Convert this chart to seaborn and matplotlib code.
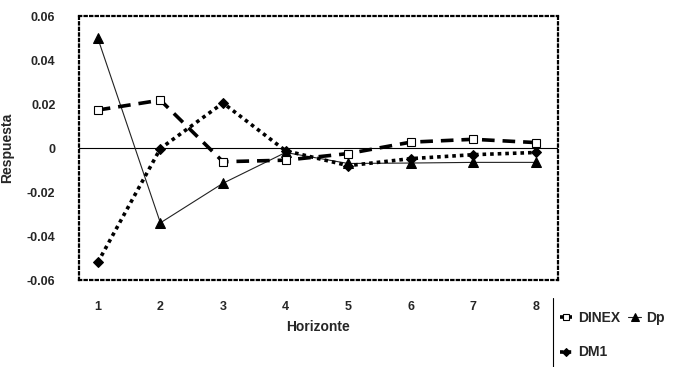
import numpy as np
import pandas as pd
import matplotlib
matplotlib.use("Agg")
import matplotlib.pyplot as plt
from matplotlib.lines import Line2D
import seaborn as sns

horizonte = [1, 2, 3, 4, 5, 6, 7, 8]
dinex = [0.0173, 0.0218, -0.0062, -0.0055, -0.0025, 0.0027, 0.0040, 0.0025]
dp = [0.0500, -0.0340, -0.0160, -0.0020, -0.0070, -0.0068, -0.0065, -0.0065]
dm1 = [-0.0520, -0.0002, 0.0205, -0.0012, -0.0080, -0.0048, -0.0030, -0.0020]
yticks = [0.06, 0.04, 0.02, 0.0, -0.02, -0.04, -0.06]
ytick_labels = ["0.06", "0.04", "0.02", "0", "-0.02", "-0.04", "-0.06"]

sns.set_style("white")
plt.rcParams['font.family'] = ['Liberation Sans', 'DejaVu Sans']
plt.rcParams['font.weight'] = 'bold'

fig = plt.figure(figsize=(6.93, 3.67), dpi=100)
ax = fig.add_axes([0.114, 0.237, 0.691, 0.719])

ax.axhline(0, color='black', lw=0.8, zorder=1)

sns.lineplot(x=horizonte, y=dp, ax=ax, color='#222222', lw=0.8,
             marker='^', markersize=7, markerfacecolor='black',
             markeredgecolor='black', label='Dp', zorder=3)
sns.lineplot(x=horizonte, y=dinex, ax=ax, color='black', lw=2.6,
             marker='s', markersize=6, markerfacecolor='white',
             markeredgecolor='black', markeredgewidth=0.8,
             label='DINEX', zorder=4)
sns.lineplot(x=horizonte, y=dm1, ax=ax, color='black', lw=2.6,
             marker='D', markersize=5, markerfacecolor='black',
             markeredgecolor='black', label='DM1', zorder=5)

for ln in ax.get_lines():
    if ln.get_label() == 'DINEX':
        ln.set_dashes((3.5, 2.2))
    elif ln.get_label() == 'DM1':
        ln.set_dashes((1.0, 1.1))

ax.set_xlim(0.70, 8.35)
ax.set_ylim(-0.06, 0.06)
ax.set_xticks(horizonte)
ax.set_xticklabels([str(h) for h in horizonte], fontsize=9, fontweight='bold')
ax.set_yticks(yticks)
ax.set_yticklabels(ytick_labels, fontsize=9, fontweight='bold')
ax.tick_params(axis='both', direction='in', length=3, width=0.6, color='black')
ax.tick_params(axis='x', pad=15)
ax.tick_params(axis='y', pad=17)

ax.set_xlabel("Horizonte", fontsize=10, fontweight='bold', labelpad=5)
ax.set_ylabel("Respuesta", fontsize=10, fontweight='bold')
ax.yaxis.set_label_coords(-0.136, 0.5)

for s in ax.spines.values():
    s.set_linestyle((0, (1, 1.5)))
    s.set_linewidth(1.6)
    s.set_color('black')

ax.get_legend().remove()
handles, labels = ax.get_legend_handles_labels()
order = ['DINEX', 'DM1', 'Dp']
hmap = dict(zip(labels, handles))
leg = fig.legend([hmap[k] for k in order], order, ncol=2, frameon=False,
                 loc='upper left', bbox_to_anchor=(0.800, 1 - 305/367),
                 fontsize=10, handlelength=0.9, handletextpad=0.4,
                 columnspacing=0.6, labelspacing=1.5, markerscale=0.8,
                 borderaxespad=0.0)
for t in leg.get_texts():
    t.set_fontweight('bold')

fig.add_artist(Line2D([553/693, 553/693], [0, 1 - 298/367],
                      transform=fig.transFigure, color='black', lw=0.8))

fig.savefig("out.png", dpi=100)
